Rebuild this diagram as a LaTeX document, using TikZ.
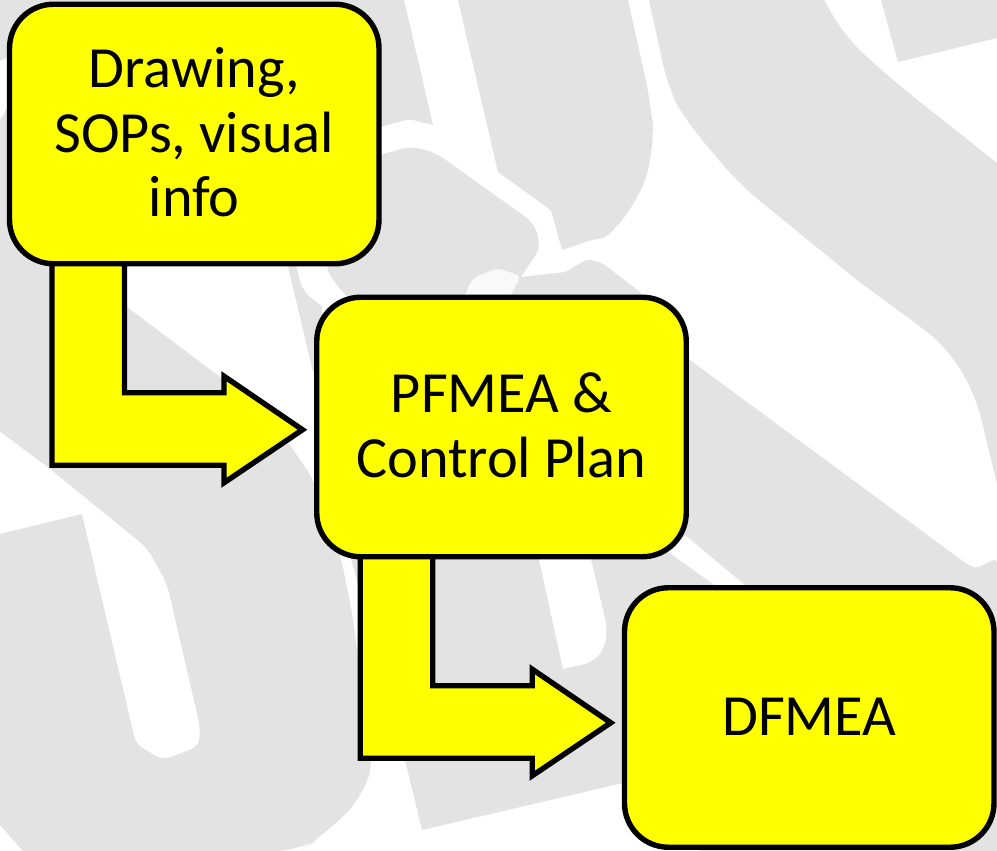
\documentclass[tikz,border=0pt]{standalone}
\usepackage{fontspec}
\setmainfont{Carlito}
\usetikzlibrary{calc}
\definecolor{wm}{HTML}{E3E3E3}
\definecolor{wmlight}{HTML}{F9F9F9}
\definecolor{boxy}{HTML}{FFFF00}
\newcommand{\liftby}[1]{\rule[-#1]{0pt}{0pt}}
\tikzset{
  stepbox/.style={draw=black,fill=boxy,line width=5.4pt,rounded corners=44pt,outer sep=0pt,inner sep=0pt,
    minimum width=369.5pt,minimum height=259.5pt,align=center,text=black,
    font=\fontsize{58.3}{64.5}\selectfont},
  blockarrow/.style={draw=black,fill=boxy,line width=5.4pt,miter limit=10},
  bentarrow/.pic={\path[blockarrow] (0,0) -- (72.5,0) -- (72.5,129) -- (172,129) -- (172,112.5) -- (250.5,166) -- (172,219) -- (172,201.5) -- (0,201.5) -- cycle;},
}
\begin{document}
\begin{tikzpicture}[x=1pt,y=-1pt]
\useasboundingbox (0,0) rectangle (997,851);
\clip (0,0) rectangle (997,851);
% watermark
\fill[white] (0,0) rectangle (997,851);
% A: top left
\fill[wm] (0,0) -- (404,0) -- (433,125) [rounded corners=6pt] -- (409,119) -- (370,130) [sharp corners] -- (370,150) -- (0,150) -- cycle;
% left column and large lower shape
\fill[wm] (0,140) -- (100,140) -- (100,262) -- (127,262) -- (127,307) -- (220,377) -- (290,445) [rounded corners=12pt] -- (313,479) -- (341,558) -- (353,618) -- (372,765) [rounded corners=25pt] -- (362,799) -- (317,840) -- (300,851) [sharp corners] -- (23,851) -- (0,825) -- cycle;
% white wedge on left edge
\fill[white,rounded corners=3pt] (-5,64) -- (9,57) -- (12,100) -- (-5,128) -- cycle;
% white cut-out in lower left
\fill[white] (-5,428) -- (50,469) [rounded corners=10pt] -- (147,548) -- (167,584) [rounded corners=8pt] -- (200,727) -- (199,746) -- (163,760) -- (136,744) [sharp corners] -- (133,731) -- (82,514) -- (-5,535) -- cycle;
% C: shape between boxes
\fill[wm] (370,158) [rounded corners=10pt] -- (411,146) -- (436,153) -- (534,223) -- (541,247) [sharp corners] -- (521,277) -- (510,300) -- (352,300) [rounded corners=12pt] -- (337,287) -- (323,262) [sharp corners] -- (370,240) -- cycle;
% sliver left of box 2
\fill[wm] (286,258) -- (313,372) -- (322,372) -- (322,306) [rounded corners=10pt] -- (303,292) -- (294,258) -- cycle;
% D: tall shape
\fill[wm] (458,0) -- (498,172) [rounded corners=4pt] -- (551,210) -- (562,250) [sharp corners] -- (562,250) [rounded corners=6pt] -- (594,239) -- (604,239) [sharp corners] [rounded corners=30pt] -- (636,207) -- (655,150) -- (651,103) [sharp corners] -- (628,0) -- cycle;
% E: upper right diagonal
\fill[wm] (649,0) [rounded corners=25pt] -- (668,87) -- (683,117) -- (738,183) [sharp corners] -- (857,280) [rounded corners=25pt] -- (945,345) -- (975,393) [sharp corners] -- (997,484) -- (997,163) [rounded corners=25pt] -- (896,83) -- (845,37) [sharp corners] -- (824,0) -- cycle;
% F: top right corner
\fill[wm] (881,0) -- (898,62) -- (997,38) -- (997,0) -- cycle;
% G: lower diagonal
\fill[wm] (510,300) -- (521,277) [rounded corners=5pt] -- (566,272) -- (587,259) -- (602,263) [sharp corners] -- (640,292) -- (660,330) -- (690,360) -- (717,380) -- (964,562) [rounded corners=5pt] -- (976,569) -- (997,558) [sharp corners] -- (997,851) -- (700,851) -- (623,783) -- (422,830) -- (405,760) -- (350,555) -- (400,300) -- cycle;
% white stripe and wedge on G
\fill[white] (686,536) -- (746,586) -- (716,586) -- (664,549) -- cycle;
\fill[white] (538,555) -- (563,669) [rounded corners=8pt] -- (593,662) -- (605,647) -- (607,627) [sharp corners] -- (590,555) -- cycle;
% light blob
\fill[wmlight,rounded corners=6pt] (463,298) -- (473,278) -- (497,268) -- (521,276) [sharp corners] -- (509,298) -- cycle;
% boxes
\node[stepbox] (drawing) at (194.25,134) {Drawing,\\SOPs, visual\\info\liftby{4pt}};
\node[stepbox] (pfmea) at (501.5,427) {PFMEA \&\\Control Plan\liftby{4pt}};
\node[stepbox] (dfmea) at (809.25,717.5) {DFMEA\liftby{2pt}};
% block arrows
\coordinate (a1) at ($(drawing.south west)+(42.5,0)$);
\coordinate (a2) at ($(pfmea.south west)+(43.5,0)$);
\pic at (a1) {bentarrow};
\pic at (a2) {bentarrow};
\end{tikzpicture}
\end{document}
